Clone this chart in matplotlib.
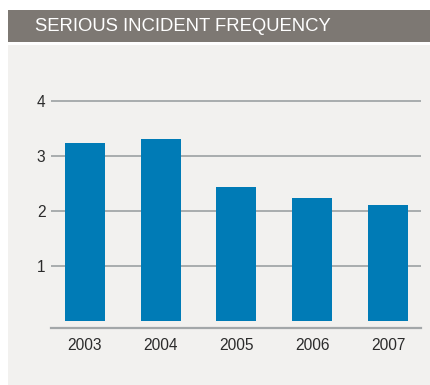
import matplotlib.pyplot as plt
from matplotlib.patches import Rectangle

# data
years = ["2003", "2004", "2005", "2006", "2007"]
frequency = [3.24, 3.31, 2.44, 2.24, 2.11]
y_ticks = [1, 2, 3, 4]

W, H = 430, 385
fig = plt.figure(figsize=(W / 100, H / 100), dpi=100)
fig.patch.set_facecolor("white")

# header band and light panel behind the chart
fig.patches.append(Rectangle((8 / W, 1 - 42 / H), 1, 32 / H, transform=fig.transFigure,
                             facecolor="#7d7873", edgecolor="none", zorder=-2))
fig.patches.append(Rectangle((8 / W, 0), 1, 1 - 45 / H, transform=fig.transFigure,
                             facecolor="#f2f1ef", edgecolor="none", zorder=-2))
fig.text(35 / W, 1 - 26.5 / H, "SERIOUS INCIDENT FREQUENCY", color="white",
         fontsize=13.3, family="Liberation Sans", va="center", ha="left")

ax = fig.add_axes([51 / W, 1 - 328 / H, 370 / W, 233 / H])
ax.set_facecolor("none")
ax.set_zorder(1)

x = list(range(len(years)))
ax.bar(x, frequency, width=0.527, color="#007bb6", zorder=2)

for t in y_ticks:
    ax.axhline(t, color="#a3a7a9", linewidth=1.3, zorder=1)

ax.set_xlim(-0.443, 4.432)
ax.set_ylim(-0.127, 4.109)
ax.set_xticks(x)
ax.set_xticklabels(years)
ax.set_yticks(y_ticks)
ax.tick_params(length=0, labelsize=11.2, labelcolor="#2b2b2b")
ax.tick_params(axis="x", pad=7)
ax.tick_params(axis="y", pad=4)
for lab in ax.get_xticklabels() + ax.get_yticklabels():
    lab.set_family("Liberation Sans")

for side in ["top", "right", "left"]:
    ax.spines[side].set_visible(False)
ax.spines["bottom"].set_color("#a3a7a9")
ax.spines["bottom"].set_linewidth(1.6)

plt.savefig("out.png", dpi=100)
